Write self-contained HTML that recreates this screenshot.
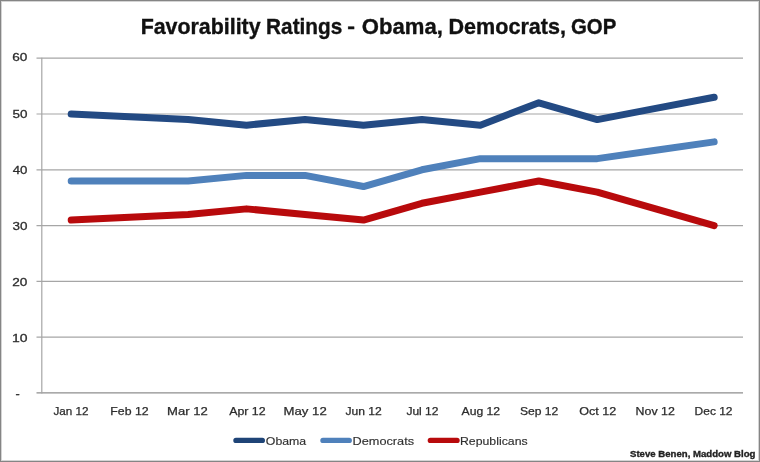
<!DOCTYPE html>
<html><head><meta charset="utf-8"><style>
html,body{margin:0;padding:0;background:#fff;}
svg{display:block;filter:blur(0.35px);}
text{font-kerning:none;}
</style></head><body>
<svg width="760" height="462" viewBox="0 0 760 462">
<rect x="0" y="0" width="760" height="462" fill="#fff"/>
<rect x="0.5" y="0.5" width="759" height="461" fill="none" stroke="#858585" stroke-width="1"/>
<rect x="1.5" y="1.5" width="757" height="459" fill="none" stroke="#d4d4d4" stroke-width="1"/>
<g font-family="Liberation Sans, sans-serif" font-weight="bold" fill="#111" stroke="#111" stroke-width="0.35">
<text x="140.67" y="33.6" font-size="22" textLength="119.94" lengthAdjust="spacingAndGlyphs">Favorability</text>
<text x="266.11" y="33.6" font-size="22" textLength="76.14" lengthAdjust="spacingAndGlyphs">Ratings</text>
<text x="347.39" y="32.6" font-size="18" textLength="7.74" lengthAdjust="spacingAndGlyphs">-</text>
<text x="361.89" y="33.6" font-size="22" textLength="80.98" lengthAdjust="spacingAndGlyphs">Obama,</text>
<text x="448.56" y="33.6" font-size="22" textLength="117.38" lengthAdjust="spacingAndGlyphs">Democrats,</text>
<text x="570.96" y="33.6" font-size="22" textLength="45.33" lengthAdjust="spacingAndGlyphs">GOP</text>
</g>
<g stroke="#a6a6a6" stroke-width="1.2">
<line x1="36.5" y1="58.20" x2="743" y2="58.20"/>
<line x1="36.5" y1="114.00" x2="743" y2="114.00"/>
<line x1="36.5" y1="169.80" x2="743" y2="169.80"/>
<line x1="36.5" y1="225.60" x2="743" y2="225.60"/>
<line x1="36.5" y1="281.40" x2="743" y2="281.40"/>
<line x1="36.5" y1="337.20" x2="743" y2="337.20"/>
<line x1="36.5" y1="392.9" x2="743" y2="392.9" stroke="#8e8e8e" stroke-width="1.3"/>
<line x1="41.8" y1="57.70" x2="41.8" y2="393.5"/>
</g>
<g font-family="Liberation Sans, sans-serif" fill="#2c2c2c" stroke="#2c2c2c" stroke-width="0.3">
<text x="12.31" y="61.26" font-size="11.8" textLength="15.12" lengthAdjust="spacingAndGlyphs">60</text>
<text x="12.46" y="118.31" font-size="11.8" textLength="14.96" lengthAdjust="spacingAndGlyphs">50</text>
<text x="12.70" y="174.16" font-size="11.8" textLength="14.72" lengthAdjust="spacingAndGlyphs">40</text>
<text x="12.49" y="229.71" font-size="11.8" textLength="14.94" lengthAdjust="spacingAndGlyphs">30</text>
<text x="12.32" y="286.41" font-size="11.8" textLength="15.11" lengthAdjust="spacingAndGlyphs">20</text>
<text x="11.94" y="342.36" font-size="11.8" textLength="15.51" lengthAdjust="spacingAndGlyphs">10</text>
<text x="15.64" y="397.5" font-size="12.1" textLength="4.23" lengthAdjust="spacingAndGlyphs">-</text>
</g>
<g font-family="Liberation Sans, sans-serif" fill="#2c2c2c" stroke="#2c2c2c" stroke-width="0.25">
<text x="53.52" y="415.4" font-size="10.7" textLength="35.07" lengthAdjust="spacingAndGlyphs">Jan 12</text>
<text x="110.29" y="415.4" font-size="10.7" textLength="38.33" lengthAdjust="spacingAndGlyphs">Feb 12</text>
<text x="167.13" y="415.4" font-size="10.7" textLength="40.63" lengthAdjust="spacingAndGlyphs">Mar 12</text>
<text x="229.18" y="415.4" font-size="10.7" textLength="36.45" lengthAdjust="spacingAndGlyphs">Apr 12</text>
<text x="283.62" y="415.4" font-size="10.7" textLength="43.14" lengthAdjust="spacingAndGlyphs">May 12</text>
<text x="345.41" y="415.4" font-size="10.7" textLength="36.30" lengthAdjust="spacingAndGlyphs">Jun 12</text>
<text x="406.41" y="415.4" font-size="10.7" textLength="32.09" lengthAdjust="spacingAndGlyphs">Jul 12</text>
<text x="461.58" y="415.4" font-size="10.7" textLength="38.54" lengthAdjust="spacingAndGlyphs">Aug 12</text>
<text x="519.95" y="415.4" font-size="10.7" textLength="38.36" lengthAdjust="spacingAndGlyphs">Sep 12</text>
<text x="579.20" y="415.4" font-size="10.7" textLength="37.03" lengthAdjust="spacingAndGlyphs">Oct 12</text>
<text x="635.58" y="415.4" font-size="10.7" textLength="39.24" lengthAdjust="spacingAndGlyphs">Nov 12</text>
<text x="694.62" y="415.4" font-size="10.7" textLength="37.88" lengthAdjust="spacingAndGlyphs">Dec 12</text>
</g>
<g fill="none" stroke-width="7" stroke-linecap="round" stroke-linejoin="round">
<polyline stroke="#234a83" points="71.20,114.00 129.65,116.79 188.10,119.58 246.55,125.16 305.00,119.58 363.45,125.16 421.90,119.58 480.35,125.16 538.80,102.84 597.25,119.58 655.70,108.42 714.15,97.26"/>
<polyline stroke="#4f81bb" points="71.20,180.96 129.65,180.96 188.10,180.96 246.55,175.38 305.00,175.38 363.45,186.54 421.90,169.80 480.35,158.64 538.80,158.64 597.25,158.64 655.70,150.27 714.15,141.90"/>
<polyline stroke="#b80a0c" points="71.20,220.02 129.65,217.23 188.10,214.44 246.55,208.86 305.00,214.44 363.45,220.02 421.90,203.28 480.35,192.12 538.80,180.96 597.25,192.12 655.70,208.86 714.15,225.60"/>
</g>
<g stroke-width="5.4" stroke-linecap="round">
<line x1="236" y1="440.4" x2="262.3" y2="440.4" stroke="#1f4477"/>
<line x1="323" y1="440.4" x2="349.2" y2="440.4" stroke="#4f81bb"/>
<line x1="430.4" y1="440.4" x2="457" y2="440.4" stroke="#b80a0c"/>
</g>
<g font-family="Liberation Sans, sans-serif" fill="#303030" stroke="#303030" stroke-width="0.15">
<text x="265.82" y="445.4" font-size="11.5" textLength="40.38" lengthAdjust="spacingAndGlyphs">Obama</text>
<text x="352.56" y="445.4" font-size="11.5" textLength="61.50" lengthAdjust="spacingAndGlyphs">Democrats</text>
<text x="459.99" y="445.4" font-size="11.5" textLength="67.65" lengthAdjust="spacingAndGlyphs">Republicans</text>
</g>
<g font-family="Liberation Sans, sans-serif" font-weight="bold" fill="#222" stroke="#222" stroke-width="0.35">
<text x="630.02" y="456.5" font-size="9.8" textLength="125.42" lengthAdjust="spacingAndGlyphs">Steve Benen, Maddow Blog</text>
</g>
</svg>
</body></html>
